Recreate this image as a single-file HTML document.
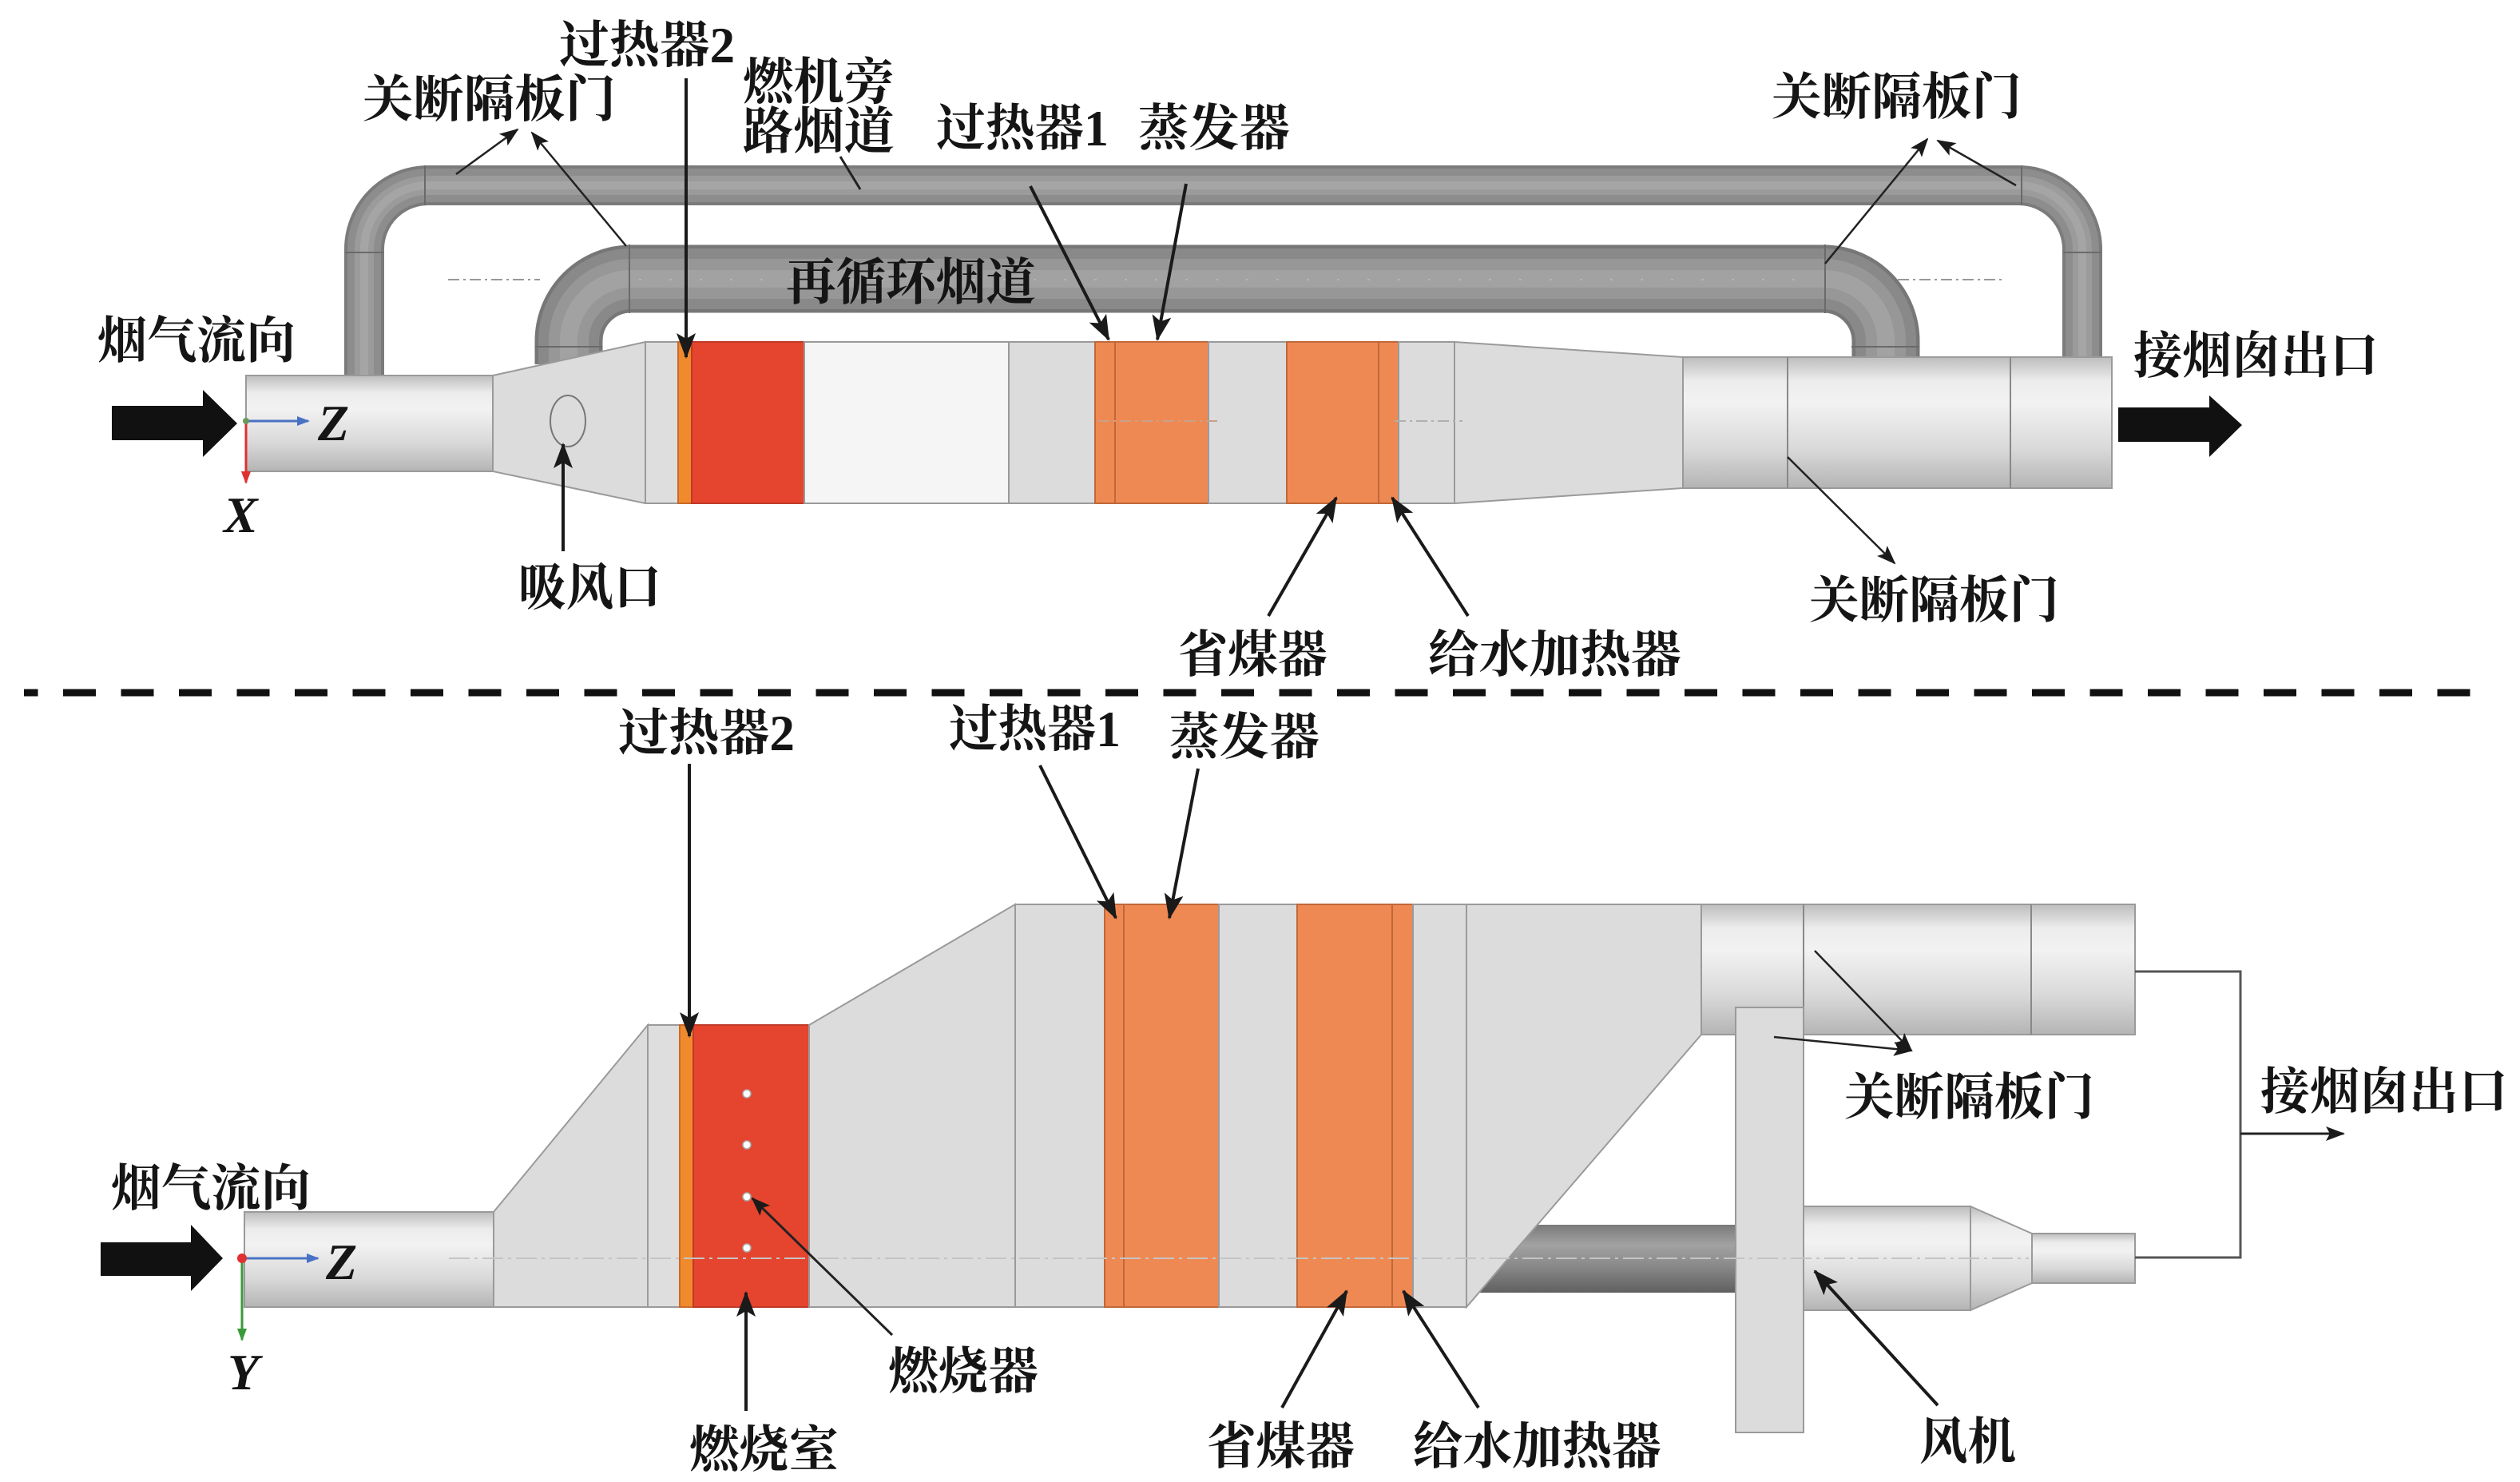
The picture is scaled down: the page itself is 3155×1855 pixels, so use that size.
<!DOCTYPE html>
<html><head><meta charset="utf-8">
<style>
html,body{margin:0;padding:0;background:#fff;}
svg{display:block;}
.t{font-family:"Liberation Serif","Noto Serif CJK SC",serif;font-weight:bold;font-size:63px;fill:#151515;}
.ax{font-family:"Liberation Serif",serif;font-weight:bold;font-style:italic;font-size:64px;fill:#151515;}
.ld{stroke:#1a1a1a;stroke-width:4;fill:none;}
.lt{stroke:#222;stroke-width:2.5;fill:none;}
.sec{stroke:#9a9a9a;stroke-width:2;}
</style></head>
<body>
<svg width="3155" height="1855" viewBox="0 0 3155 1855" xmlns="http://www.w3.org/2000/svg">
<defs>
<linearGradient id="cyl" x1="0" y1="0" x2="0" y2="1">
<stop offset="0" stop-color="#bdbdbd"/><stop offset="0.18" stop-color="#ececec"/><stop offset="0.35" stop-color="#f2f2f2"/><stop offset="0.7" stop-color="#d9d9d9"/><stop offset="1" stop-color="#b4b4b4"/>
</linearGradient>
<linearGradient id="dark" x1="0" y1="0" x2="0" y2="1">
<stop offset="0" stop-color="#7a7a7a"/><stop offset="0.3" stop-color="#a2a2a2"/><stop offset="0.6" stop-color="#8a8a8a"/><stop offset="1" stop-color="#606060"/>
</linearGradient>
<marker id="ah" markerUnits="userSpaceOnUse" markerWidth="32" markerHeight="24" refX="30" refY="12" orient="auto">
<path d="M0,0 L32,12 L0,24 L7,12 z" fill="#1a1a1a"/>
</marker>
<marker id="as" markerUnits="userSpaceOnUse" markerWidth="24" markerHeight="18" refX="22" refY="9" orient="auto">
<path d="M0,0 L24,9 L0,18 L5,9 z" fill="#1a1a1a"/>
</marker>
<marker id="ab" markerUnits="userSpaceOnUse" markerWidth="16" markerHeight="12" refX="14" refY="6" orient="auto">
<path d="M0,0 L16,6 L0,12 z" fill="#4a72c4"/>
</marker>
<marker id="ar" markerUnits="userSpaceOnUse" markerWidth="16" markerHeight="12" refX="14" refY="6" orient="auto">
<path d="M0,0 L16,6 L0,12 z" fill="#e03030"/>
</marker>
<marker id="ag" markerUnits="userSpaceOnUse" markerWidth="16" markerHeight="12" refX="14" refY="6" orient="auto">
<path d="M0,0 L16,6 L0,12 z" fill="#3a9a3a"/>
</marker>
</defs>
<rect width="3155" height="1855" fill="#fff"/>

<!-- ================= TOP VIEW ================= -->
<g fill="none" stroke-linecap="butt">
<path d="M456 476 L456 312 A80 80 0 0 1 536 232 L2527 232 A80 80 0 0 1 2607 312 L2607 452" stroke="#7b7b7b" stroke-width="50"/>
<path d="M456 476 L456 312 A80 80 0 0 1 536 232 L2527 232 A80 80 0 0 1 2607 312 L2607 452" stroke="#8d8d8d" stroke-width="42"/>
<path d="M456 476 L456 312 A80 80 0 0 1 536 232 L2527 232 A80 80 0 0 1 2607 312 L2607 452" stroke="#9b9b9b" stroke-width="24"/>
<path d="M456 476 L456 312 A80 80 0 0 1 536 232 L2527 232 A80 80 0 0 1 2607 312 L2607 452" stroke="#a5a5a5" stroke-width="10"/>
<path d="M712 456 L712 427 A78 78 0 0 1 790 349 L2283 349 A78 78 0 0 1 2361 427 L2361 452" stroke="#777" stroke-width="85"/>
<path d="M712 456 L712 427 A78 78 0 0 1 790 349 L2283 349 A78 78 0 0 1 2361 427 L2361 452" stroke="#898989" stroke-width="76"/>
<path d="M712 456 L712 427 A78 78 0 0 1 790 349 L2283 349 A78 78 0 0 1 2361 427 L2361 452" stroke="#979797" stroke-width="50"/>
<path d="M712 456 L712 427 A78 78 0 0 1 790 349 L2283 349 A78 78 0 0 1 2361 427 L2361 452" stroke="#a2a2a2" stroke-width="22"/>
</g>
<g stroke="#6a6a6a" stroke-width="2">
<line x1="532" y1="207" x2="532" y2="257"/><line x1="432" y1="316" x2="480" y2="316"/>
<line x1="2531" y1="207" x2="2531" y2="257"/><line x1="2583" y1="316" x2="2630" y2="316"/>
<line x1="788" y1="306" x2="788" y2="392"/><line x1="2285" y1="306" x2="2285" y2="392"/>
<line x1="670" y1="434" x2="754" y2="434"/><line x1="2318" y1="434" x2="2403" y2="434"/>
</g>
<line x1="561" y1="350" x2="676" y2="350" stroke="#999" stroke-width="2" stroke-dasharray="14 5 3 5"/>
<line x1="800" y1="350" x2="2280" y2="350" stroke="#b5b5b5" stroke-width="2" stroke-dasharray="3 35"/>
<line x1="2376" y1="350" x2="2510" y2="350" stroke="#999" stroke-width="2" stroke-dasharray="14 5 3 5"/>

<rect x="308" y="470" width="309" height="120" fill="url(#cyl)" stroke="#9a9a9a" stroke-width="2"/>
<polygon points="617,470 808,428 808,630 617,590" fill="#dcdcdc" stroke="#9a9a9a" stroke-width="2"/>
<ellipse cx="711" cy="527" rx="22" ry="32" fill="none" stroke="#777" stroke-width="2"/>
<rect class="sec" x="808" y="428" width="41" height="202" fill="#dedede"/>
<rect class="sec" x="849" y="428" width="17" height="202" fill="#f08a2c" style="stroke:#c96a2a"/>
<rect class="sec" x="866" y="428" width="141" height="202" fill="#e5442e" style="stroke:#c03a28"/>
<rect class="sec" x="1007" y="428" width="256" height="202" fill="#f5f5f5"/>
<rect class="sec" x="1263" y="428" width="108" height="202" fill="#dcdcdc"/>
<rect class="sec" x="1371" y="428" width="25" height="202" fill="#ef8953" style="stroke:#c0683a"/>
<rect class="sec" x="1396" y="428" width="117" height="202" fill="#ef8953" style="stroke:#c0683a"/>
<rect class="sec" x="1513" y="428" width="98" height="202" fill="#dcdcdc"/>
<rect class="sec" x="1611" y="428" width="115" height="202" fill="#ef8953" style="stroke:#c0683a"/>
<rect class="sec" x="1726" y="428" width="25" height="202" fill="#ef8953" style="stroke:#c0683a"/>
<rect class="sec" x="1751" y="428" width="70" height="202" fill="#dcdcdc"/>
<polygon points="1821,428 2107,447 2107,611 1821,630" fill="#dcdcdc" stroke="#9a9a9a" stroke-width="2"/>
<line x1="1375" y1="527" x2="1527" y2="527" stroke="#c9a08a" stroke-width="2" stroke-dasharray="14 5 3 5"/>
<line x1="1746" y1="527" x2="1831" y2="527" stroke="#b0b0b0" stroke-width="2" stroke-dasharray="14 5 3 5"/>
<rect x="2107" y="447" width="537" height="164" fill="url(#cyl)" stroke="#9a9a9a" stroke-width="2"/>
<line x1="2238" y1="447" x2="2238" y2="611" stroke="#888" stroke-width="2"/>
<line x1="2517" y1="447" x2="2517" y2="611" stroke="#888" stroke-width="2"/>
<polygon points="140,508 254,508 254,488 297,530 254,572 254,551 140,551" fill="#111"/>
<polygon points="2652,510 2766,510 2766,495 2807,532 2766,572 2766,553 2652,553" fill="#111"/>
<line x1="308" y1="527" x2="386" y2="527" stroke="#4a72c4" stroke-width="3" marker-end="url(#ab)"/>
<line x1="308" y1="527" x2="308" y2="604" stroke="#e03030" stroke-width="3" marker-end="url(#ar)"/>
<circle cx="308" cy="527" r="4" fill="#6a9a5a"/>
<text class="ax" x="398" y="551">Z</text>
<text class="ax" x="280" y="666">X</text>

<line class="ld" x1="859" y1="98" x2="859" y2="447" marker-end="url(#ah)"/>
<line class="lt" x1="571" y1="218" x2="648" y2="162" marker-end="url(#as)"/>
<line class="lt" x1="784" y1="308" x2="666" y2="166" marker-end="url(#as)"/>
<line class="lt" x1="1052" y1="196" x2="1077" y2="237" style="stroke-width:3"/>
<line class="ld" x1="1290" y1="233" x2="1388" y2="425" marker-end="url(#ah)"/>
<line class="ld" x1="1485" y1="230" x2="1449" y2="425" marker-end="url(#ah)"/>
<line class="lt" x1="2285" y1="330" x2="2413" y2="174" marker-end="url(#as)"/>
<line class="lt" x1="2524" y1="232" x2="2426" y2="176" marker-end="url(#as)"/>
<line class="ld" x1="705" y1="690" x2="705" y2="556" marker-end="url(#ah)"/>
<line class="ld" x1="1588" y1="771" x2="1673" y2="623" marker-end="url(#ah)"/>
<line class="ld" x1="1838" y1="771" x2="1743" y2="623" marker-end="url(#ah)"/>
<line class="lt" x1="2238" y1="572" x2="2372" y2="705" marker-end="url(#as)"/>

<text class="t" x="700" y="78" textLength="220" lengthAdjust="spacingAndGlyphs">过热器2</text>
<text class="t" x="454" y="146" textLength="317" lengthAdjust="spacingAndGlyphs">关断隔板门</text>
<text class="t" x="930" y="124" textLength="190" lengthAdjust="spacingAndGlyphs">燃机旁</text>
<text class="t" x="930" y="186" textLength="190" lengthAdjust="spacingAndGlyphs">路烟道</text>
<text class="t" x="1172" y="182" textLength="216" lengthAdjust="spacingAndGlyphs">过热器1</text>
<text class="t" x="1425" y="182" textLength="190" lengthAdjust="spacingAndGlyphs">蒸发器</text>
<text class="t" x="984" y="375" textLength="313" lengthAdjust="spacingAndGlyphs">再循环烟道</text>
<text class="t" x="2218" y="143" textLength="313" lengthAdjust="spacingAndGlyphs">关断隔板门</text>
<text class="t" x="122" y="448" textLength="248" lengthAdjust="spacingAndGlyphs">烟气流向</text>
<text class="t" x="2671" y="467" textLength="307" lengthAdjust="spacingAndGlyphs">接烟囱出口</text>
<text class="t" x="649" y="757" textLength="179" lengthAdjust="spacingAndGlyphs">吸风口</text>
<text class="t" x="1475" y="841" textLength="187" lengthAdjust="spacingAndGlyphs">省煤器</text>
<text class="t" x="1788" y="841" textLength="317" lengthAdjust="spacingAndGlyphs">给水加热器</text>
<text class="t" x="2265" y="773" textLength="313" lengthAdjust="spacingAndGlyphs">关断隔板门</text>

<line x1="30" y1="867" x2="3094" y2="867" stroke="#111" stroke-width="9" stroke-dasharray="41 31.5" stroke-dashoffset="23.5"/>

<!-- ================= BOTTOM VIEW ================= -->
<polygon points="1925,1533 2175,1533 2175,1618 1851,1618" fill="url(#dark)"/>
<rect x="306" y="1517" width="312" height="119" fill="url(#cyl)" stroke="#9a9a9a" stroke-width="2"/>
<polygon points="618,1517 811,1283 811,1636 618,1636" fill="#dcdcdc" stroke="#9a9a9a" stroke-width="2"/>
<rect class="sec" x="811" y="1283" width="40" height="353" fill="#dedede"/>
<rect class="sec" x="851" y="1283" width="17" height="353" fill="#f08a2c" style="stroke:#c96a2a"/>
<rect class="sec" x="868" y="1283" width="145" height="353" fill="#e5442e" style="stroke:#c03a28"/>
<polygon points="1013,1283 1271,1132 1271,1636 1013,1636" fill="#dcdcdc" stroke="#9a9a9a" stroke-width="2"/>
<rect class="sec" x="1271" y="1132" width="112" height="504" fill="#dcdcdc"/>
<rect class="sec" x="1383" y="1132" width="24" height="504" fill="#ef8953" style="stroke:#c0683a"/>
<rect class="sec" x="1407" y="1132" width="119" height="504" fill="#ef8953" style="stroke:#c0683a"/>
<rect class="sec" x="1526" y="1132" width="98" height="504" fill="#dcdcdc"/>
<rect class="sec" x="1624" y="1132" width="119" height="504" fill="#ef8953" style="stroke:#c0683a"/>
<rect class="sec" x="1743" y="1132" width="26" height="504" fill="#ef8953" style="stroke:#c0683a"/>
<rect class="sec" x="1769" y="1132" width="67" height="504" fill="#dcdcdc"/>
<polygon points="1836,1132 2130,1132 2130,1295 1836,1636" fill="#dcdcdc" stroke="#9a9a9a" stroke-width="2"/>
<rect x="2130" y="1132" width="543" height="163" fill="url(#cyl)" stroke="#9a9a9a" stroke-width="2"/>
<line x1="2258" y1="1132" x2="2258" y2="1295" stroke="#888" stroke-width="2"/>
<line x1="2543" y1="1132" x2="2543" y2="1295" stroke="#888" stroke-width="2"/>
<rect x="2258" y="1510" width="209" height="130" fill="url(#cyl)" stroke="#9a9a9a" stroke-width="2"/>
<polygon points="2467,1510 2544,1544 2544,1606 2467,1640" fill="url(#cyl)" stroke="#9a9a9a" stroke-width="2"/>
<rect x="2544" y="1544" width="129" height="62" fill="url(#cyl)" stroke="#9a9a9a" stroke-width="2"/>
<rect x="2173" y="1261" width="85" height="532" fill="#dcdcdc" stroke="#9a9a9a" stroke-width="2"/>
<g fill="#fff" stroke="#aaa" stroke-width="1.5">
<circle cx="935" cy="1369" r="5"/><circle cx="935" cy="1433" r="5"/><circle cx="935" cy="1498" r="5"/><circle cx="935" cy="1562" r="5"/>
</g>
<line x1="562" y1="1575" x2="2540" y2="1575" stroke="#c4c4c4" stroke-width="2" stroke-dasharray="26 6 4 6"/>
<polyline points="2673,1216 2805,1216 2805,1574 2673,1574" fill="none" stroke="#555" stroke-width="3"/>
<line x1="2805" y1="1419" x2="2934" y2="1419" stroke="#222" stroke-width="3" marker-end="url(#as)"/>
<polygon points="126,1555 239,1555 239,1533 279,1575 239,1616 239,1597 126,1597" fill="#111"/>
<line x1="303" y1="1575" x2="398" y2="1575" stroke="#4a72c4" stroke-width="3" marker-end="url(#ab)"/>
<line x1="303" y1="1575" x2="303" y2="1677" stroke="#3a9a3a" stroke-width="3" marker-end="url(#ag)"/>
<circle cx="303" cy="1575" r="6" fill="#e03030"/>
<text class="ax" x="408" y="1601">Z</text>
<text class="ax" x="285" y="1739">Y</text>

<line class="ld" x1="863" y1="956" x2="863" y2="1297" marker-end="url(#ah)"/>
<line class="ld" x1="934" y1="1766" x2="934" y2="1618" marker-end="url(#ah)"/>
<line class="lt" x1="1117" y1="1671" x2="942" y2="1500" style="stroke-width:3" marker-end="url(#as)"/>
<line class="ld" x1="1302" y1="958" x2="1397" y2="1149" marker-end="url(#ah)"/>
<line class="ld" x1="1500" y1="962" x2="1464" y2="1149" marker-end="url(#ah)"/>
<line class="ld" x1="1605" y1="1762" x2="1686" y2="1616" marker-end="url(#ah)"/>
<line class="ld" x1="1851" y1="1762" x2="1757" y2="1616" marker-end="url(#ah)"/>
<line class="lt" x1="2272" y1="1190" x2="2393" y2="1315" marker-end="url(#as)"/>
<line class="lt" x1="2221" y1="1298" x2="2393" y2="1315" marker-end="url(#as)"/>
<line class="ld" x1="2426" y1="1759" x2="2272" y2="1591" marker-end="url(#ah)"/>

<text class="t" x="774" y="939" textLength="221" lengthAdjust="spacingAndGlyphs">过热器2</text>
<text class="t" x="1188" y="934" textLength="215" lengthAdjust="spacingAndGlyphs">过热器1</text>
<text class="t" x="1464" y="944" textLength="188" lengthAdjust="spacingAndGlyphs">蒸发器</text>
<text class="t" x="139" y="1509" textLength="250" lengthAdjust="spacingAndGlyphs">烟气流向</text>
<text class="t" x="863" y="1836" textLength="187" lengthAdjust="spacingAndGlyphs">燃烧室</text>
<text class="t" x="1112" y="1738" textLength="188" lengthAdjust="spacingAndGlyphs">燃烧器</text>
<text class="t" x="1511" y="1832" textLength="185" lengthAdjust="spacingAndGlyphs">省煤器</text>
<text class="t" x="1769" y="1832" textLength="311" lengthAdjust="spacingAndGlyphs">给水加热器</text>
<text class="t" x="2309" y="1395" textLength="313" lengthAdjust="spacingAndGlyphs">关断隔板门</text>
<text class="t" x="2830" y="1388" textLength="310" lengthAdjust="spacingAndGlyphs">接烟囱出口</text>
<text class="t" x="2403" y="1826" textLength="121" lengthAdjust="spacingAndGlyphs">风机</text>
</svg>
</body></html>
